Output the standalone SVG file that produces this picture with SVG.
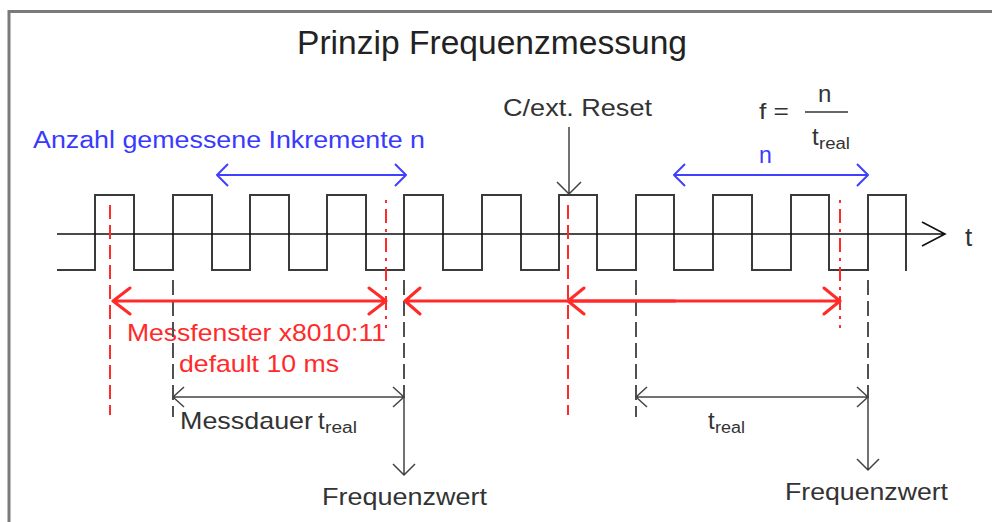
<svg xmlns="http://www.w3.org/2000/svg" width="992" height="522" viewBox="0 0 992 522">
<style>
  text { font-family: "Liberation Sans", Arial, sans-serif; }
  .dark { fill: #333333; }
  .red { fill: #ff2a2a; }
  .blue { fill: #3a3aff; }
  .wave { fill: none; stroke: #3a3a3a; stroke-width: 2; }
  .axis { fill: none; stroke: #111111; stroke-width: 1.6; }
  .rdash { fill: none; stroke: #ff2a2a; stroke-width: 2; stroke-dasharray: 14 6; }
  .rdashdot { fill: none; stroke: #ff2a2a; stroke-width: 2; stroke-dasharray: 3 6 14 6; }
  .gdash { fill: none; stroke: #505050; stroke-width: 2; stroke-dasharray: 15 6; }
  .rarrow { fill: none; stroke: #ff2a2a; stroke-width: 3; stroke-linecap: round; stroke-linejoin: round; }
  .barrow { fill: none; stroke: #4040ff; stroke-width: 2; stroke-linejoin: round; }
  .karrow { fill: none; stroke: #444444; stroke-width: 1.5; stroke-linejoin: round; }
  .frame { fill: none; stroke: #7a7a7a; stroke-width: 3; }
</style>
<rect x="0" y="0" width="992" height="522" fill="#ffffff"/>
<path class="frame" d="M9,524 V11.5 H994"/>

<g id="title">
  <text x="297" y="54" font-size="34" fill="#222222" textLength="390" lengthAdjust="spacingAndGlyphs">Prinzip Frequenzmessung</text>
</g>

<g id="signal">
  <path class="wave" d="M57,270 H95 V195 H134 V270 H173 V195 H212 V270 H250 V195 H289 V270 H327 V195 H366 V270 H404 V195 H443 V270 H482 V195 H521 V270 H559 V195 H597 V270 H636 V195 H674 V270 H713 V195 H752 V270 H791 V195 H829 V270 H868 V195 H906 V271"/>
</g>

<g id="time-axis">
  <path class="axis" d="M57,234 H945 M922,222 L945,234 L922,246"/>
  <text x="965" y="246" font-size="26" class="dark">t</text>
</g>

<g id="label-increments">
  <text x="33" y="148" font-size="23" class="blue" textLength="392" lengthAdjust="spacingAndGlyphs">Anzahl gemessene Inkremente n</text>
</g>

<g id="label-reset">
  <text x="503" y="116" font-size="24" class="dark" textLength="149" lengthAdjust="spacingAndGlyphs">C/ext. Reset</text>
</g>

<g id="formula">
  <text x="759" y="119" font-size="22" class="dark" textLength="30" lengthAdjust="spacingAndGlyphs">f =</text>
  <text x="818" y="102" font-size="24" class="dark">n</text>
  <path d="M805,112 H848" stroke="#333333" stroke-width="1.6"/>
  <text x="812" y="145" font-size="24" class="dark">t</text>
  <text x="819" y="149" font-size="16" class="dark" textLength="31" lengthAdjust="spacingAndGlyphs">real</text>
</g>

<g id="label-n">
  <text x="759" y="163" font-size="23" class="blue">n</text>
</g>

<g id="label-window">
  <text x="127" y="341" font-size="24" class="red" textLength="259" lengthAdjust="spacingAndGlyphs">Messfenster x8010:11</text>
  <text x="179" y="372" font-size="24" class="red" textLength="160" lengthAdjust="spacingAndGlyphs">default 10 ms</text>
</g>

<g id="label-messdauer">
  <text x="180" y="429" font-size="24" class="dark" textLength="133" lengthAdjust="spacingAndGlyphs">Messdauer</text>
  <text x="318" y="429" font-size="24" class="dark">t</text>
  <text x="325" y="433" font-size="16" class="dark" textLength="32" lengthAdjust="spacingAndGlyphs">real</text>
</g>

<g id="label-treal">
  <text x="708" y="429" font-size="24" class="dark">t</text>
  <text x="715" y="433" font-size="16" class="dark" textLength="30" lengthAdjust="spacingAndGlyphs">real</text>
</g>

<g id="label-freq-1">
  <text x="322" y="505" font-size="24" class="dark" textLength="165" lengthAdjust="spacingAndGlyphs">Frequenzwert</text>
</g>
<g id="label-freq-2">
  <text x="785" y="500" font-size="24" class="dark" textLength="163" lengthAdjust="spacingAndGlyphs">Frequenzwert</text>
</g>

<g id="connectors">
  <path class="rdash" d="M110,205 V415"/>
  <path class="rdash" d="M568,205 V415"/>
  <path class="rdashdot" d="M386,200 V328"/>
  <path class="rdashdot" d="M840,200 V328"/>
  <path class="gdash" d="M173,280 V417"/>
  <path class="gdash" d="M404,280 V398"/>
  <path class="gdash" d="M636,280 V417"/>
  <path class="gdash" d="M868,280 V398"/>
  <path class="rarrow" d="M113,301 H386 M130,288 L113,301 L130,314 M369,288 L386,301 L369,314"/>
  <path class="rarrow" stroke-width="3.5" d="M405,301 H675 M420,288 L405,301 L420,314"/>
  <path class="rarrow" stroke-width="2.5" d="M568,301 H840 M584,288 L568,301 L584,314 M824,288 L840,301 L824,314"/>
  <path class="barrow" d="M217,175 H406 M228,164 L217,175 L228,186 M395,164 L406,175 L395,186"/>
  <path class="barrow" d="M674,175 H868 M685,164 L674,175 L685,186 M857,164 L868,175 L857,186"/>
  <path class="karrow" d="M569,127 V194 M557,182 L569,194 L581,182"/>
  <path class="karrow" d="M173,397 H404 M184,387 L173,397 L184,407 M393,387 L404,397 L393,407"/>
  <path class="karrow" d="M636,397 H868 M647,387 L636,397 L647,407 M857,387 L868,397 L857,407"/>
  <path class="karrow" d="M404,397 V475 M393,464 L404,475 L415,464"/>
  <path class="karrow" d="M868,397 V470 M857,459 L868,470 L879,459"/>
</g>
</svg>
